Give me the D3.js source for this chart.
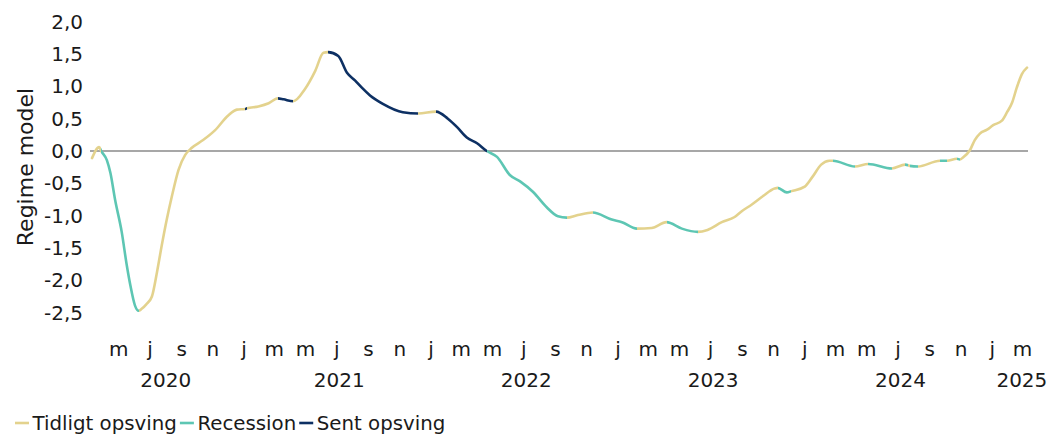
<!DOCTYPE html>
<html>
<head>
<meta charset="UTF-8">
<script src="https://d3js.org/d3.v7.min.js"></script>
<style>
	body { margin: 0; background: #fff; }
	svg text { font-family: "DejaVu Sans", sans-serif; fill: #1a1a1a; }
</style>
</head>
<body>
<svg id="Chart" width="1054" height="434"></svg>
<script>
// regime model values
var Dates = [
	"2020-03-05","2020-03-19","2020-03-23","2020-04-03","2020-04-10","2020-04-19","2020-05-02","2020-05-12",
	"2020-05-19","2020-05-28","2020-06-04","2020-06-10","2020-06-19","2020-06-30","2020-07-10","2020-07-19",
	"2020-07-29","2020-08-08","2020-08-21","2020-09-03","2020-09-16","2020-10-08","2020-10-31","2020-11-26",
	"2020-12-13","2020-12-29","2021-01-02","2021-01-24","2021-02-13","2021-03-03","2021-03-14","2021-04-02",
	"2021-04-25","2021-05-15","2021-05-31","2021-06-09","2021-06-29","2021-07-16","2021-08-01","2021-08-14",
	"2021-08-30","2021-09-24","2021-11-02","2021-12-02","2022-01-06","2022-01-29","2022-02-16","2022-03-07",
	"2022-03-27","2022-04-15","2022-05-05","2022-05-30","2022-06-19","2022-07-14","2022-08-10","2022-09-01",
	"2022-09-18","2022-10-10","2022-11-08","2022-12-15","2023-01-04","2023-02-02","2023-03-03","2023-04-01",
	"2023-05-01","2023-06-01","2023-06-20","2023-07-18","2023-08-12","2023-08-26","2023-09-14","2023-10-06",
	"2023-10-29","2023-11-04","2023-11-22","2023-12-01","2023-12-27","2024-01-11","2024-01-28","2024-02-13",
	"2024-02-20","2024-04-03","2024-04-29","2024-06-14","2024-07-10","2024-07-16","2024-07-19","2024-08-04",
	"2024-09-16","2024-09-30","2024-10-19","2024-10-25","2024-10-31","2024-11-14","2024-11-23","2024-12-03",
	"2024-12-17","2024-12-29","2025-01-15","2025-01-25","2025-02-04","2025-02-13","2025-02-23","2025-03-05"
];
var Values = [
	-0.11, 0.06, 0.00, -0.14, -0.34, -0.75, -1.25, -1.77,
	-2.08, -2.39, -2.47, -2.44, -2.37, -2.25, -1.87, -1.47,
	-1.06, -0.70, -0.29, -0.06, 0.05, 0.17, 0.32, 0.55,
	0.64, 0.65, 0.66, 0.69, 0.74, 0.815, 0.80, 0.77,
	0.96, 1.24, 1.52, 1.53, 1.47, 1.21, 1.09, 0.98,
	0.86, 0.73, 0.60, 0.58, 0.61, 0.50, 0.37, 0.21,
	0.12, 0.00, -0.09, -0.37, -0.47, -0.63, -0.87, -1.01,
	-1.03, -0.99, -0.95, -1.06, -1.10, -1.20, -1.19, -1.10,
	-1.20, -1.25, -1.22, -1.10, -1.02, -0.93, -0.83, -0.70,
	-0.58, -0.57, -0.64, -0.62, -0.55, -0.40, -0.21, -0.15,
	-0.15, -0.24, -0.20, -0.27, -0.21, -0.22, -0.23, -0.24,
	-0.15, -0.15, -0.12, -0.13, -0.10, 0.02, 0.17, 0.27,
	0.33, 0.40, 0.47, 0.60, 0.75, 0.98, 1.19, 1.29
];
// regime from each point up to the next one: T = tidligt, R = recession, S = sent
var Regimes = [
	"T","T","R","R","R","R","R","R",
	"R","R","T","T","T","T","T","T",
	"T","T","T","T","T","T","T","T",
	"T","S","T","T","T","S","S","T",
	"T","T","T","S","S","S","S","S",
	"S","S","S","T","S","S","S","S",
	"S","R","R","R","R","R","R","R",
	"T","T","R","R","R","T","T","R",
	"R","T","T","T","T","T","T","T",
	"T","R","R","T","T","T","T","T",
	"R","T","R","T","R","T","R","T",
	"R","T","R","T","T","T","T","T",
	"T","T","T","T","T","T","T","T"
];
var RegimeKeys = ["T", "R", "S"];
var RegimeNames = ["Tidligt opsving", "Recession", "Sent opsving"];
var MonthLetters = ["j","f","m","a","m","j","j","a","s","o","n","d"];
var YTicks = [-2.5, -2.0, -1.5, -1.0, -0.5, 0.0, 0.5, 1.0, 1.5, 2.0];
var YearLabels = ["2020", "2021", "2022", "2023", "2024", "2025"];
var YearDates = ["2020-07-27", "2021-07-01", "2022-07-01", "2023-07-01", "2024-07-01", "2025-02-23"];

var Colors = {"T": "#E3D28D", "R": "#5DC6B3", "S": "#0D3063"};
var Width = 1054;

var ParseDate = d3.timeParse("%Y-%m-%d");
var Data = Dates.map(function(D, i){ return {Date: ParseDate(D), Value: Values[i], Regime: Regimes[i]}; });

var XScale = d3.scaleTime()
	.domain(d3.extent(Data, function(D){ return D.Date; }))
	.range([92, 1027]);

var YScale = d3.scaleLinear()
	.domain([-2.5, 2.0])
	.range([312.7, 21.7]);

var Svg = d3.select("#Chart");

// y axis: labels only
var YAxis = d3.axisLeft(YScale)
	.tickValues(YTicks)
	.tickSize(0)
	.tickPadding(9)
	.tickFormat(function(V){ return V.toFixed(1).replace(".", ","); });

Svg.append("g")
	.attr("class", "YAxis")
	.attr("transform", "translate(92,0)")
	.call(YAxis)
	.call(function(G){ G.select(".domain").remove(); })
	.selectAll("text")
	.style("font-size", "20px")
	.attr("fill", "#1a1a1a");

// zero line
Svg.append("line")
	.attr("x1", XScale.range()[0] - 2)
	.attr("x2", XScale.range()[1] + 1)
	.attr("y1", YScale(0))
	.attr("y2", YScale(0))
	.attr("stroke", "#8a8a8a")
	.attr("stroke-width", 1.4);

// x axis: month letters every second month
var XAxis = d3.axisBottom(XScale)
	.ticks(d3.timeMonth.every(2))
	.tickSize(0)
	.tickPadding(0)
	.tickFormat(function(D){ return MonthLetters[D.getMonth()]; });

Svg.append("g")
	.attr("class", "XAxis")
	.attr("transform", "translate(-3,342)")
	.call(XAxis)
	.call(function(G){ G.select(".domain").remove(); })
	.selectAll("text")
	.style("font-size", "20px")
	.attr("fill", "#1a1a1a");

Svg.append("g")
	.selectAll("text")
	.data(YearLabels)
	.enter()
	.append("text")
	.attr("x", function(D, i){ return XScale(ParseDate(YearDates[i])); })
	.attr("y", 387)
	.attr("text-anchor", "middle")
	.style("font-size", "20px")
	.text(function(D){ return D; });

// line coloured by regime with a hard-stop gradient along x
var Grad = Svg.append("defs").append("linearGradient")
	.attr("id", "RegimeGrad")
	.attr("gradientUnits", "userSpaceOnUse")
	.attr("x1", 0).attr("x2", Width)
	.attr("y1", 0).attr("y2", 0);

var Stops = [];
for (var i = 0; i < Data.length - 1; i++)
{
	var C = Colors[Data[i].Regime];
	Stops.push({Offset: XScale(Data[i].Date) / Width, Color: C});
	Stops.push({Offset: XScale(Data[i + 1].Date) / Width, Color: C});
}
Grad.selectAll("stop")
	.data(Stops)
	.enter()
	.append("stop")
	.attr("offset", function(D){ return D.Offset; })
	.attr("stop-color", function(D){ return D.Color; });

var Line = d3.line()
	.x(function(D){ return XScale(D.Date); })
	.y(function(D){ return YScale(D.Value); })
	.curve(d3.curveMonotoneX);

Svg.append("path")
	.datum(Data)
	.attr("d", Line)
	.attr("fill", "none")
	.attr("stroke", "url(#RegimeGrad)")
	.attr("stroke-width", 2.6)
	.attr("stroke-linejoin", "round")
	.attr("stroke-linecap", "round");

// axis title
Svg.append("text")
	.attr("transform", "translate(33,167) rotate(-90)")
	.attr("text-anchor", "middle")
	.style("font-size", "22px")
	.text("Regime model");

// legend
var Legend = Svg.append("g").attr("transform", "translate(15,0)");
var LegendX = 0;
RegimeKeys.forEach(function(K, i)
{
	var Item = Legend.append("g").attr("transform", "translate(" + LegendX + ",0)");
	Item.append("line")
		.attr("x1", 0).attr("x2", 14)
		.attr("y1", 423).attr("y2", 423)
		.attr("stroke", Colors[K])
		.attr("stroke-width", 2.6);
	var T = Item.append("text")
		.attr("x", 17.5)
		.attr("y", 430)
		.style("font-size", "19.8px")
		.text(RegimeNames[i]);
	LegendX += 17.5 + T.node().getComputedTextLength() + 3;
});
</script>
</body>
</html>
